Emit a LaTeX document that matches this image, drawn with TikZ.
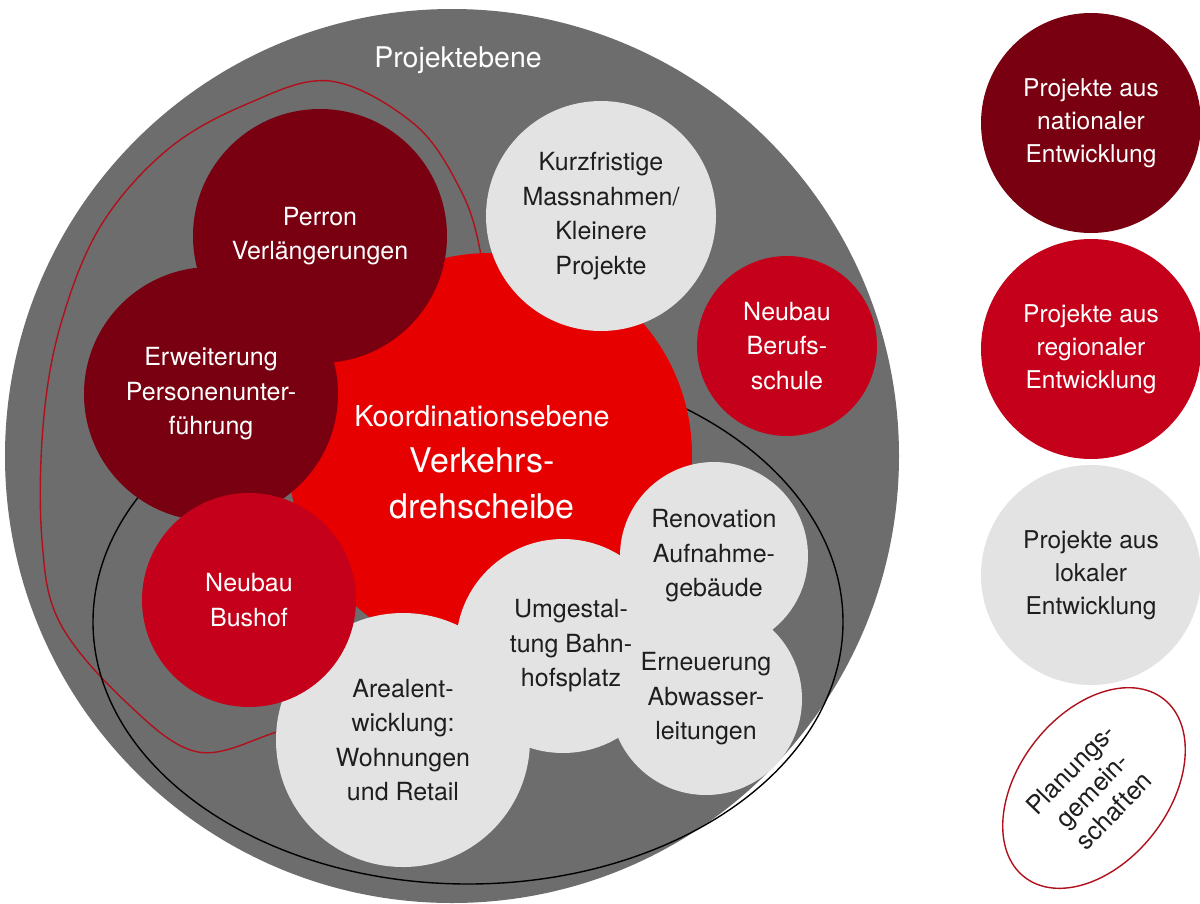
\documentclass[tikz,border=0pt]{standalone}
\usepackage{fontspec}
\setmainfont{TeX Gyre Heros}
\usetikzlibrary{shapes.geometric}
\definecolor{pgray}{HTML}{6D6D6D}
\definecolor{cdark}{HTML}{780010}
\definecolor{cred}{HTML}{E60000}
\definecolor{cmid}{HTML}{C4001A}
\definecolor{clight}{HTML}{E3E3E3}
\definecolor{ctext}{HTML}{1E1E1E}
\definecolor{cline}{HTML}{B0101C}
\begin{document}
\begin{tikzpicture}[x=1pt,y=-1pt,
  disc/.style={circle, inner sep=0pt, outer sep=0pt, align=center,
    font=\fontsize{25}{34.5}\selectfont},
  natdisc/.style={disc, fill=cdark, text=white},
  regdisc/.style={disc, fill=cmid, text=white},
  locdisc/.style={disc, fill=clight, text=ctext},
  hubdisc/.style={disc, fill=cred, text=white},
  legdisc/.style={circle, inner sep=0pt, align=center,
    font=\fontsize{24.5}{33}\selectfont},
  groupline/.style={draw=cline, line width=1.4pt},
  arealine/.style={draw=black, line width=1.4pt},
  lighttext/.style={align=center, text=ctext, font=\fontsize{25}{34.5}\selectfont},
  hubtext/.style={align=center, text=white, font=\fontsize{34}{46}\selectfont}
]
\useasboundingbox (0,0) rectangle (1200,903);
\fill[white] (0,0) rectangle (1200,903);

% outer project level
\fill[pgray] (452,456) circle [radius=447pt];
\node[text=white, font=\fontsize{28.5}{34}\selectfont] (projektebene) at (458,60) {Projektebene};

% planning community outline (red) and area outline (black)
\draw[groupline] plot[smooth cycle, tension=0.6] coordinates {
  (330,81) (413,123) (458,185) (480,250) (495,370) (480,520) (420,650)
  (340,712) (277,732) (198,752) (127,703) (60,623) (42,540)
  (43,427) (60,327) (100,227) (167,150) (247,104)};
\draw[arealine] (468,622) ellipse [x radius=375pt, y radius=262pt];

% coordination level
\node[hubdisc, minimum size=404pt] (hub) at (490,455) {};
\node[hubtext] (hubt) at (482,462)
  {{\fontsize{28.8}{46}\selectfont Koordinationsebene}\\Verkehrs-\\drehscheibe};

% national projects
\node[natdisc, minimum size=254pt] (perron) at (320,236) {Perron\\Verlängerungen};
\node[natdisc, minimum size=254pt] (erw) at (211,394) {Erweiterung\\Personenunter-\\führung};

% local / regional around
\node[locdisc, minimum size=230pt] (kurz) at (601,216) {Kurzfristige\\Massnahmen/\\Kleinere\\Projekte};
\node[regdisc, minimum size=180pt] (beruf) at (787,346) {Neubau\\Berufs-\\schule};

\node[locdisc, minimum size=254pt] (areal) at (403,740) {Arealent-\\wicklung:\\Wohnungen\\und Retail};
\node[locdisc, minimum size=214pt] (umg) at (563,646) {};
\node[locdisc, minimum size=188pt] (reno) at (714,556) {Renovation\\Aufnahme-\\gebäude};
\node[locdisc, minimum size=192pt] (erneu) at (706,699) {Erneuerung\\Abwasser-\\leitungen};
\node[lighttext] (umgt) at (571,646) {Umgestal-\\tung Bahn-\\hofsplatz};

\node[regdisc, minimum size=214pt] (bus) at (249,600) {Neubau\\Bushof};

% legend
\node[legdisc, fill=cdark, text=white, minimum size=220pt] (legnat) at (1091,123)
  {Projekte aus\\nationaler\\Entwicklung};
\node[legdisc, fill=cmid, text=white, minimum size=220pt] (legreg) at (1091,349)
  {Projekte aus\\regionaler\\Entwicklung};
\node[legdisc, fill=clight, text=ctext, minimum size=220pt] (legloc) at (1091,575)
  {Projekte aus\\lokaler\\Entwicklung};
\node[ellipse, draw=cline, line width=1.4pt, minimum width=226pt, minimum height=150pt,
  inner sep=0pt, rotate=52] (legplan) at (1094,788) {};
\node[align=center, text=ctext, rotate=46, font=\fontsize{25.5}{30}\selectfont] (legplant)
  at (1092,790) {Planungs-\\gemein-\\schaften};
\end{tikzpicture}
\end{document}
